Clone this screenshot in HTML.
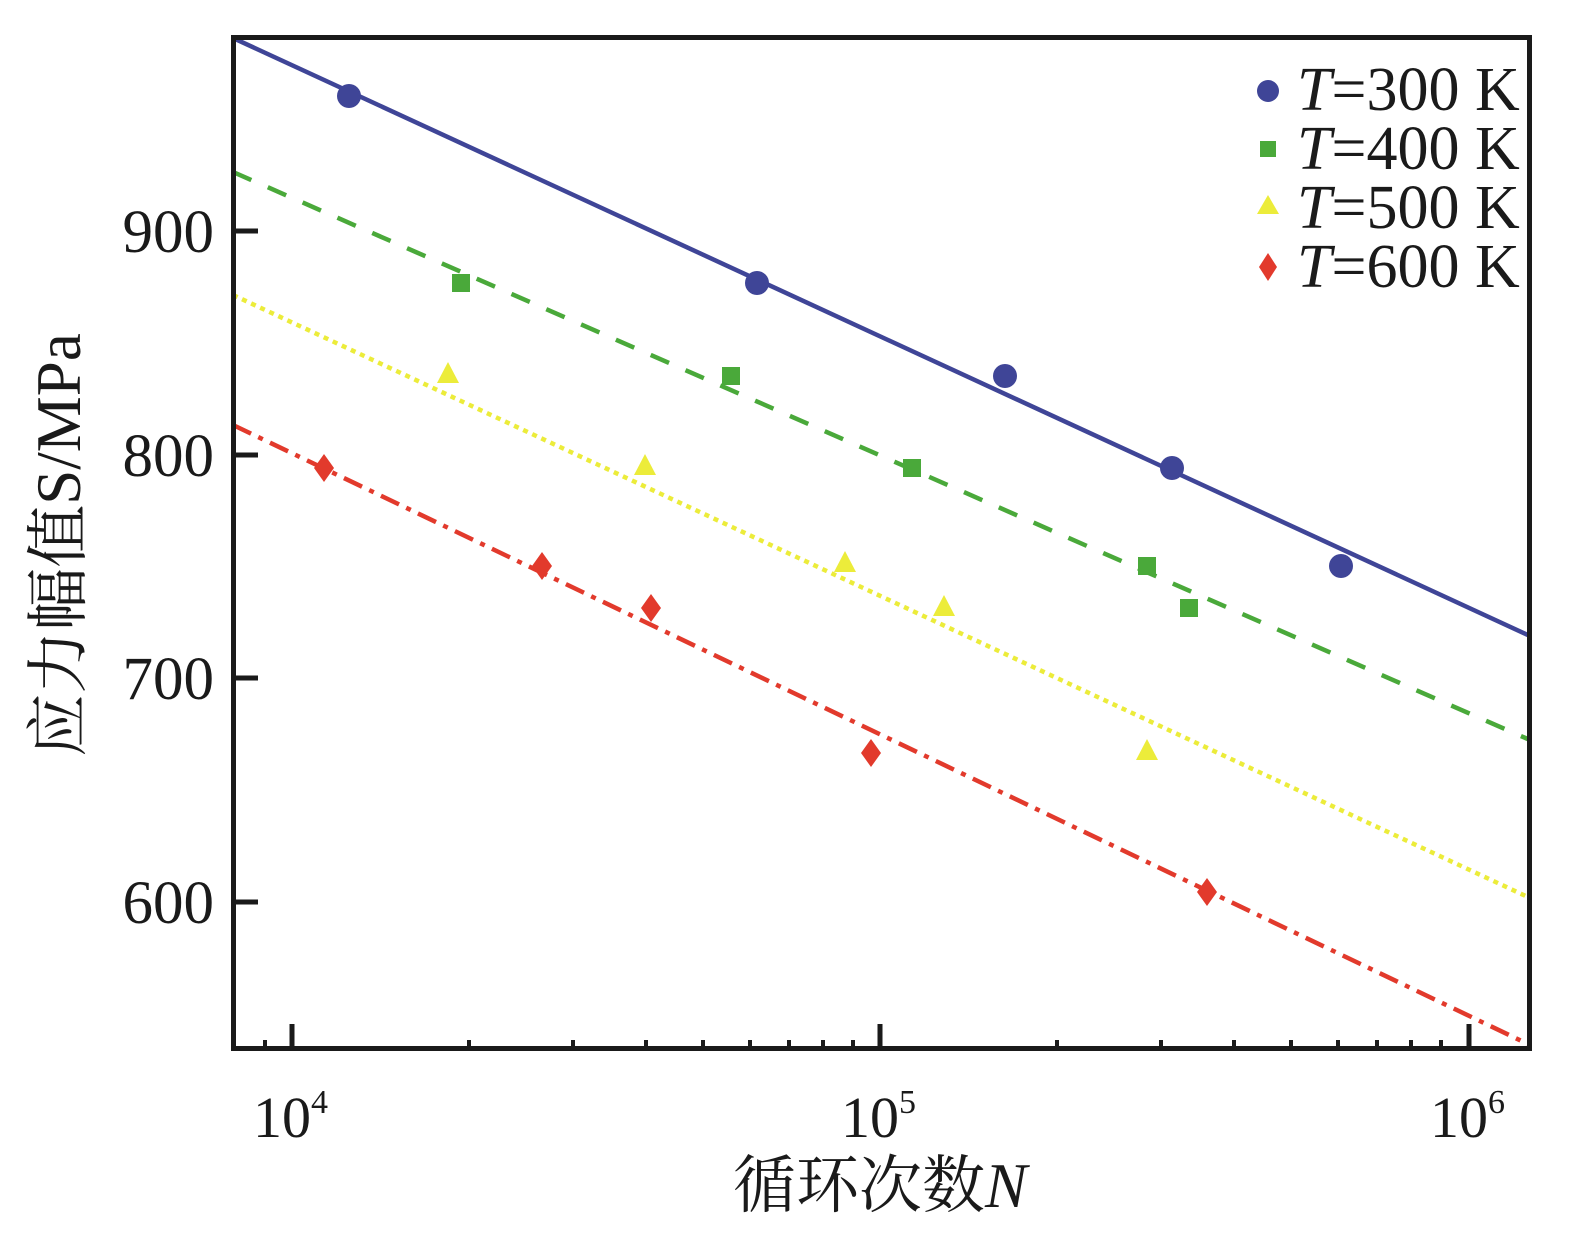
<!DOCTYPE html>
<html><head><meta charset="utf-8"><style>
html,body{margin:0;padding:0;background:#fff;}
svg{display:block;}
text{font-family:"Liberation Serif","Noto Serif CJK SC",serif;fill:#1a1a1a;}
</style></head><body>
<svg width="1571" height="1240" viewBox="0 0 1571 1240" xmlns="http://www.w3.org/2000/svg">
<defs><clipPath id="c"><rect x="236" y="40" width="1292" height="1006"/></clipPath></defs>
<g clip-path="url(#c)">
<line x1="233" y1="38" x2="1530" y2="636" stroke="#3f4597" stroke-width="4.5"/>
<line x1="233" y1="172" x2="1530" y2="740" stroke="#4aa93a" stroke-width="4.5" stroke-dasharray="20,18"/>
<line x1="233" y1="295" x2="1530" y2="898" stroke="#ecec3a" stroke-width="4.5" stroke-dasharray="5,5"/>
<line x1="233" y1="425" x2="1530" y2="1045" stroke="#e23a2c" stroke-width="4.5" stroke-dasharray="20,8,5,8"/>
</g>
<g fill="#3f4597">
<circle cx="349" cy="96" r="12"/><circle cx="757" cy="283" r="12"/><circle cx="1005" cy="376" r="12"/><circle cx="1172" cy="468" r="12"/><circle cx="1341" cy="566" r="12"/>
</g>
<g fill="#4aa93a">
<rect x="452" y="274" width="18" height="18"/><rect x="722" y="367" width="18" height="18"/><rect x="903" y="459" width="18" height="18"/><rect x="1138" y="557" width="18" height="18"/><rect x="1180" y="599" width="18" height="18"/>
</g>
<g fill="#ecec3a">
<polygon points="448,362 437,383 459,383"/><polygon points="645,454 634,475 656,475"/><polygon points="845,551 834,572 856,572"/><polygon points="944,595 933,616 955,616"/><polygon points="1147,739 1136,760 1158,760"/>
</g>
<g fill="#e23a2c">
<polygon points="324,454 334,468 324,482 314,468"/><polygon points="542,552 552,566 542,580 532,566"/><polygon points="651,594 661,608 651,622 641,608"/><polygon points="871,739 881,753 871,767 861,753"/><polygon points="1207,878 1217,892 1207,906 1197,892"/>
</g>
<rect x="233.5" y="37.5" width="1296" height="1011" fill="none" stroke="#1a1a1a" stroke-width="5"/>
<g stroke="#1a1a1a" stroke-width="5">
<line x1="236" y1="231" x2="258" y2="231"/><line x1="236" y1="455" x2="258" y2="455"/><line x1="236" y1="678" x2="258" y2="678"/><line x1="236" y1="902" x2="258" y2="902"/>
<line x1="292" y1="1046" x2="292" y2="1024"/><line x1="880" y1="1046" x2="880" y2="1024"/><line x1="1469" y1="1046" x2="1469" y2="1024"/>
</g>
<g stroke="#1a1a1a" stroke-width="4">
<line x1="265" y1="1046" x2="265" y2="1040"/>
<line x1="469" y1="1046" x2="469" y2="1040"/><line x1="573" y1="1046" x2="573" y2="1040"/><line x1="646" y1="1046" x2="646" y2="1040"/><line x1="703" y1="1046" x2="703" y2="1040"/><line x1="750" y1="1046" x2="750" y2="1040"/><line x1="789" y1="1046" x2="789" y2="1040"/><line x1="823" y1="1046" x2="823" y2="1040"/><line x1="853" y1="1046" x2="853" y2="1040"/>
<line x1="1057" y1="1046" x2="1057" y2="1040"/><line x1="1161" y1="1046" x2="1161" y2="1040"/><line x1="1234" y1="1046" x2="1234" y2="1040"/><line x1="1291" y1="1046" x2="1291" y2="1040"/><line x1="1338" y1="1046" x2="1338" y2="1040"/><line x1="1377" y1="1046" x2="1377" y2="1040"/><line x1="1411" y1="1046" x2="1411" y2="1040"/><line x1="1441" y1="1046" x2="1441" y2="1040"/>
</g>
<g font-size="61" text-anchor="end">
<text x="214" y="252">900</text><text x="214" y="476">800</text><text x="214" y="699">700</text><text x="214" y="923">600</text>
</g>
<g font-size="58">
<text x="253" y="1137">10<tspan font-size="34" dy="-24">4</tspan></text>
<text x="841" y="1137">10<tspan font-size="34" dy="-24">5</tspan></text>
<text x="1430" y="1137">10<tspan font-size="34" dy="-24">6</tspan></text>
</g>
<text x="880" y="1207" font-size="63" text-anchor="middle">循环次数<tspan font-style="italic">N</tspan></text>
<text transform="translate(80,545) rotate(-90)" font-size="63" text-anchor="middle">应力幅值S/MPa</text>
<circle cx="1268" cy="91" r="11" fill="#3f4597"/>
<rect x="1260" y="141" width="16" height="16" fill="#4aa93a"/>
<polygon points="1268,195 1257,214 1279,214" fill="#ecec3a"/>
<polygon points="1268,253 1277,267 1268,281 1259,267" fill="#e23a2c"/>
<g font-size="62">
<text x="1297" y="110"><tspan font-style="italic">T</tspan>=300 K</text>
<text x="1297" y="169"><tspan font-style="italic">T</tspan>=400 K</text>
<text x="1297" y="228"><tspan font-style="italic">T</tspan>=500 K</text>
<text x="1297" y="287"><tspan font-style="italic">T</tspan>=600 K</text>
</g>
</svg>
</body></html>
